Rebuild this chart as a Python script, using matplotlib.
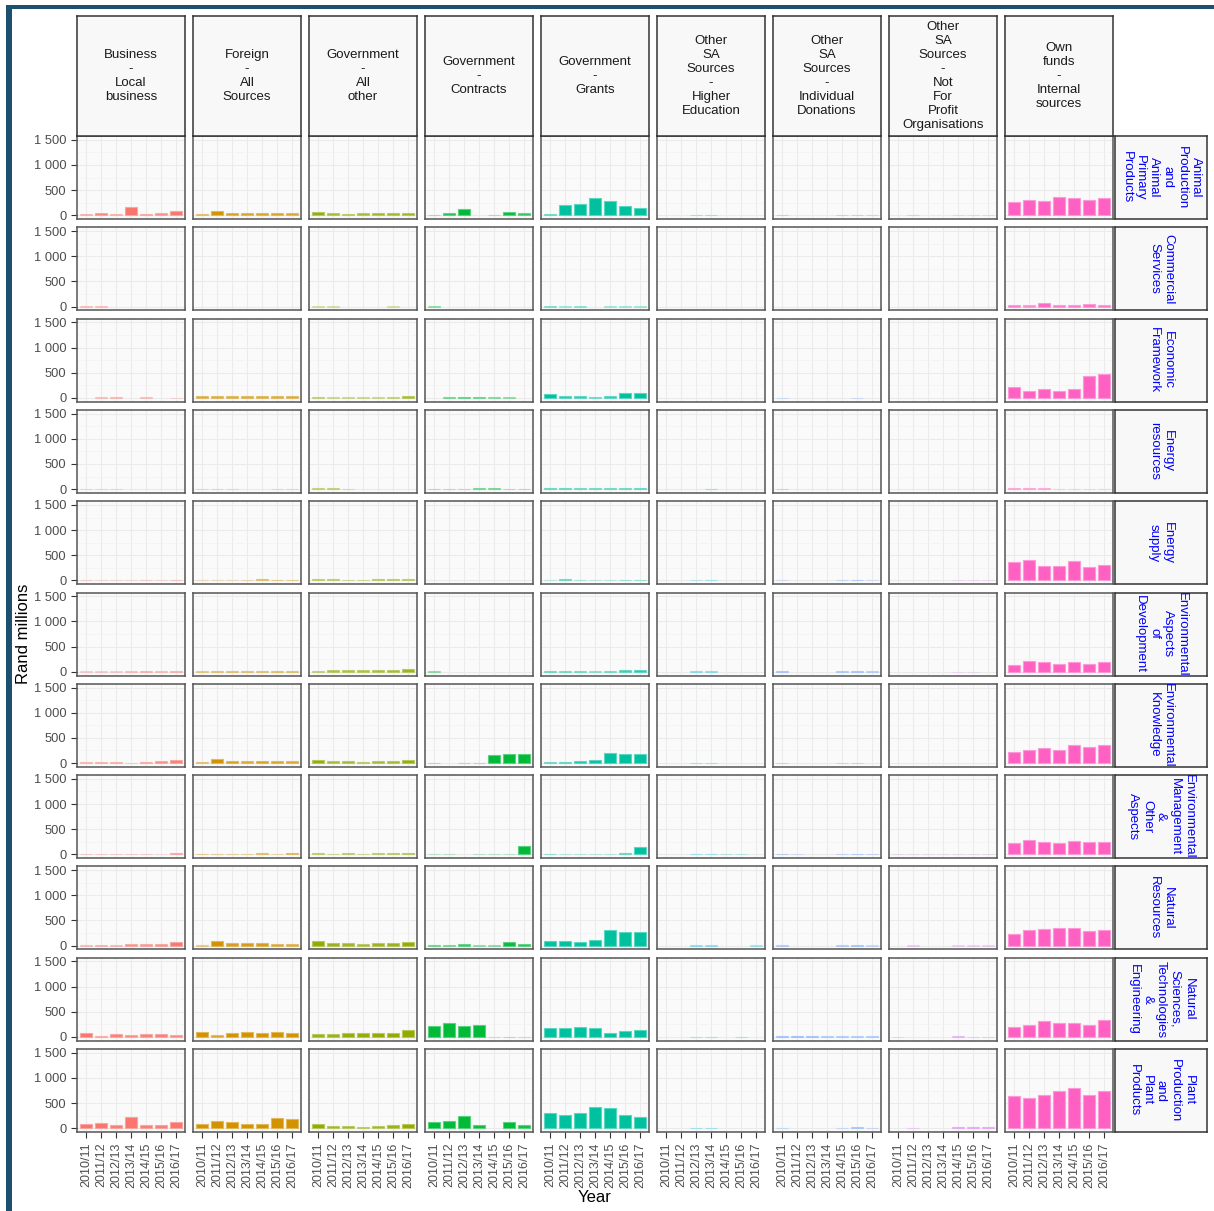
import numpy as np
import matplotlib
matplotlib.use("Agg")
import matplotlib.pyplot as plt
from matplotlib.patches import Rectangle
from matplotlib.colors import to_rgb

plt.rcParams['font.family'] = ['Liberation Sans', 'DejaVu Sans']

years = ["2010/11", "2011/12", "2012/13", "2013/14", "2014/15", "2015/16", "2016/17"]

sources = ["Business\n-\nLocal\nbusiness", "Foreign\n-\nAll\nSources", "Government\n-\nAll\nother",
           "Government\n-\nContracts", "Government\n-\nGrants",
           "Other\nSA\nSources\n-\nHigher\nEducation", "Other\nSA\nSources\n-\nIndividual\nDonations",
           "Other\nSA\nSources\n-\nNot\nFor\nProfit\nOrganisations", "Own\nfunds\n-\nInternal\nsources"]

fields = ["Animal\nProduction\nand\nAnimal\nPrimary\nProducts", "Commercial\nServices", "Economic\nFramework",
          "Energy\nresources", "Energy\nsupply", "Environmental\nAspects\nof\nDevelopment",
          "Environmental\nKnowledge", "Environmental\nManagement\n&\nOther\nAspects", "Natural\nResources",
          "Natural\nSciences,\nTechnologies\n&\nEngineering", "Plant\nProduction\nand\nPlant\nProducts"]

source_colors = ["#F8766D", "#D39200", "#93AA00", "#00BA38", "#00C19F", "#00B9E3", "#619CFF", "#DB72FB", "#FF61C3"]

# Rand millions per source (columns) for each field (rows), years 2010/11 .. 2016/17
animal_production = [
    [15, 50, 15, 155, 30, 35, 75],
    [20, 90, 50, 45, 45, 45, 35],
    [70, 35, 30, 35, 45, 45, 50],
    [10, 45, 130, 0, 8, 70, 35],
    [20, 200, 230, 340, 290, 175, 150],
    [0, 0, 10, 10, 0, 0, 0],
    [12, 0, 0, 0, 12, 12, 8],
    [0, 10, 0, 0, 5, 5, 5],
    [265, 305, 280, 365, 335, 305, 350],
]
commercial_services = [
    [8, 8, 0, 0, 0, 0, 0],
    [0, 0, 0, 0, 0, 0, 0],
    [5, 5, 0, 0, 0, 5, 0],
    [8, 0, 0, 0, 0, 0, 0],
    [10, 5, 8, 0, 5, 5, 5],
    [0, 0, 0, 0, 0, 0, 0],
    [0, 0, 0, 0, 0, 0, 0],
    [0, 0, 0, 0, 0, 0, 0],
    [40, 25, 65, 40, 40, 50, 40],
]
economic_framework = [
    [0, 8, 12, 0, 8, 0, 6],
    [30, 28, 28, 30, 30, 28, 30],
    [15, 8, 8, 8, 8, 12, 35],
    [0, 15, 25, 20, 10, 8, 0],
    [80, 40, 35, 20, 35, 105, 90],
    [0, 0, 0, 0, 0, 0, 0],
    [6, 0, 0, 0, 0, 6, 0],
    [0, 0, 0, 0, 0, 0, 0],
    [225, 145, 185, 145, 185, 435, 475],
]
energy_resources = [
    [6, 6, 6, 0, 0, 0, 0],
    [6, 6, 6, 0, 0, 6, 6],
    [15, 15, 8, 0, 0, 0, 0],
    [8, 8, 8, 15, 15, 8, 8],
    [25, 25, 20, 20, 20, 20, 25],
    [0, 0, 0, 12, 0, 0, 0],
    [12, 0, 0, 0, 0, 0, 0],
    [0, 0, 0, 0, 0, 0, 0],
    [20, 20, 15, 5, 5, 5, 5],
]
energy_supply = [
    [8, 5, 5, 5, 8, 5, 15],
    [5, 5, 5, 8, 20, 18, 15],
    [20, 20, 15, 15, 25, 25, 25],
    [0, 0, 0, 0, 0, 0, 0],
    [5, 20, 8, 5, 5, 12, 15],
    [0, 0, 5, 10, 0, 0, 0],
    [5, 0, 0, 0, 10, 18, 5],
    [0, 0, 0, 0, 4, 4, 4],
    [360, 410, 285, 285, 395, 260, 300],
]
env_aspects_development = [
    [5, 5, 5, 8, 15, 8, 15],
    [10, 15, 15, 15, 15, 20, 15],
    [15, 25, 25, 25, 30, 35, 50],
    [8, 0, 0, 0, 0, 0, 0],
    [20, 15, 15, 8, 15, 30, 40],
    [0, 0, 8, 8, 0, 0, 0],
    [15, 0, 0, 0, 12, 15, 8],
    [0, 0, 0, 0, 4, 4, 0],
    [130, 205, 185, 160, 190, 150, 200],
]
env_knowledge = [
    [12, 15, 15, 8, 25, 35, 55],
    [15, 80, 50, 35, 50, 40, 35],
    [70, 35, 40, 30, 35, 40, 70],
    [8, 0, 8, 8, 160, 180, 180],
    [20, 30, 50, 70, 200, 180, 170],
    [0, 0, 8, 8, 0, 0, 0],
    [8, 0, 0, 0, 8, 8, 0],
    [0, 0, 0, 0, 0, 0, 0],
    [210, 250, 290, 250, 350, 315, 365],
]
env_management = [
    [8, 8, 8, 8, 8, 3, 30],
    [15, 12, 12, 12, 20, 8, 30],
    [20, 15, 20, 15, 20, 25, 35],
    [5, 5, 0, 5, 5, 5, 170],
    [15, 5, 5, 5, 5, 25, 145],
    [0, 0, 10, 10, 5, 5, 0],
    [15, 5, 0, 0, 10, 15, 10],
    [4, 4, 4, 4, 4, 4, 4],
    [225, 275, 255, 230, 265, 245, 245],
]
natural_resources = [
    [10, 15, 10, 35, 30, 35, 75],
    [10, 100, 50, 55, 55, 35, 30],
    [95, 55, 45, 35, 50, 55, 75],
    [20, 15, 30, 8, 8, 70, 40],
    [100, 100, 75, 110, 310, 280, 265],
    [0, 0, 8, 8, 0, 0, 5],
    [10, 0, 0, 0, 10, 15, 5],
    [0, 5, 0, 0, 4, 4, 4],
    [240, 320, 330, 345, 345, 290, 305],
]
natural_sciences = [
    [80, 25, 55, 40, 55, 55, 40],
    [100, 35, 85, 100, 75, 100, 85],
    [55, 55, 70, 70, 85, 85, 140],
    [225, 285, 220, 230, 5, 8, 5],
    [170, 185, 190, 170, 85, 110, 130],
    [0, 0, 8, 8, 0, 8, 0],
    [20, 25, 20, 10, 10, 10, 10],
    [5, 0, 0, 0, 12, 8, 8],
    [190, 245, 315, 275, 285, 245, 330],
]
plant_production = [
    [80, 100, 60, 225, 60, 60, 130],
    [80, 150, 120, 85, 90, 205, 185],
    [80, 45, 40, 30, 45, 55, 75],
    [130, 150, 235, 70, 0, 120, 60],
    [305, 265, 305, 415, 410, 265, 225],
    [0, 0, 10, 10, 0, 0, 0],
    [8, 0, 0, 0, 8, 15, 8],
    [0, 10, 0, 0, 25, 25, 25],
    [645, 595, 670, 750, 800, 670, 750],
]

field_values = [animal_production, commercial_services, economic_framework, energy_resources,
                energy_supply, env_aspects_development, env_knowledge, env_management,
                natural_resources, natural_sciences, plant_production]

W, H = 1214, 1211
fig = plt.figure(figsize=(W / 100, H / 100), dpi=100)
fig.patch.set_facecolor("white")

# frame
fig.add_artist(Rectangle((6 / W, 0), 6 / W, 1 - 6 / H, transform=fig.transFigure,
                         facecolor="#1d4f6e", edgecolor="none"))
fig.add_artist(Rectangle((6 / W, 1 - 9 / H), 1 - 6 / W, 4 / H, transform=fig.transFigure,
                         facecolor="#1d4f6e", edgecolor="none"))


def rect(x0, ytop, w, h):
    return [x0 / W, 1 - (ytop + h) / H, w / W, h / H]


col_x0, col_step, col_w = 77, 116, 108
row_y0, row_step, row_h = 136, 91.3, 83
strip_top_y, strip_top_h = 16, 120
rstrip_x, rstrip_w = 1115, 92


def alpha_for(v):
    if v <= 0:
        return 0.0
    a = (np.log10(v) - 0.5) / 1.4
    return float(np.clip(0.22 + 0.78 * a, 0.22, 1.0))


def tint(c, f):
    r, g, b = to_rgb(c)
    return (r + (1 - r) * f, g + (1 - g) * f, b + (1 - b) * f)


x = np.arange(len(years))
for j, vals in enumerate(field_values):
    for i in range(len(sources)):
        ax = fig.add_axes(rect(col_x0 + i * col_step, row_y0 + j * row_step, col_w, row_h))
        ax.set_facecolor("#FAFAFA")
        ax.set_xlim(-0.6, 6.6)
        ax.set_ylim(-75, 1575)
        ax.set_yticks([0, 500, 1000, 1500])
        ax.set_yticks([250, 750, 1250], minor=True)
        ax.set_xticks(x)
        ax.grid(True, which="major", color="#EBEBEB", lw=0.8)
        ax.grid(True, which="minor", axis="y", color="#F2F2F2", lw=0.5)
        ax.set_axisbelow(True)
        col = source_colors[i]
        for k, v in enumerate(vals[i]):
            if v > 0:
                a = alpha_for(v)
                ax.bar(x[k], v, width=0.78, color=(*to_rgb(col), a),
                       edgecolor=(*tint(col, 0.35), a), linewidth=0.8)
        for s in ax.spines.values():
            s.set_color("#555555")
            s.set_linewidth(1.1)
        ax.tick_params(axis="both", which="major", length=4, color="#333333", width=0.8,
                       labelsize=9.3, labelcolor="#4D4D4D")
        ax.tick_params(axis="y", which="minor", length=0)
        if i == 0:
            ax.set_yticklabels(["0", "500", "1 000", "1 500"])
        else:
            ax.tick_params(axis="y", length=0, labelleft=False)
        if j == len(field_values) - 1:
            ax.set_xticklabels(years, rotation=90)
            ax.tick_params(axis="x", labelsize=9)
        else:
            ax.tick_params(axis="x", length=0, labelbottom=False)

# top strips
for i, lab in enumerate(sources):
    sax = fig.add_axes(rect(col_x0 + i * col_step, strip_top_y, col_w, strip_top_h))
    sax.set_facecolor("#F8F8F8")
    sax.set_xticks([]); sax.set_yticks([])
    for s in sax.spines.values():
        s.set_color("#333333"); s.set_linewidth(1.1)
    sax.text(0.5, 0.5, lab, ha="center", va="center", multialignment="center",
             fontsize=9.5, color="#1A1A1A", linespacing=1.22, transform=sax.transAxes)

# right strips
for j, lab in enumerate(fields):
    sax = fig.add_axes(rect(rstrip_x, row_y0 + j * row_step, rstrip_w, row_h))
    sax.set_facecolor("#F8F8F8")
    sax.set_xticks([]); sax.set_yticks([])
    for s in sax.spines.values():
        s.set_color("#333333"); s.set_linewidth(1.1)
    sax.text(0.5, 0.5, lab, ha="center", va="center", multialignment="center", rotation=270,
             fontsize=9.5, color="#0000FF", linespacing=1.2, transform=sax.transAxes, clip_on=True)

fig.text(595 / W, 1 - 1197 / H, "Year", ha="center", va="center", fontsize=12, color="black")
fig.text(24 / W, 1 - 634 / H, "Rand millions", ha="center", va="center", rotation=90, fontsize=12,
         color="black")

fig.savefig("out.png", dpi=100, facecolor="white")
